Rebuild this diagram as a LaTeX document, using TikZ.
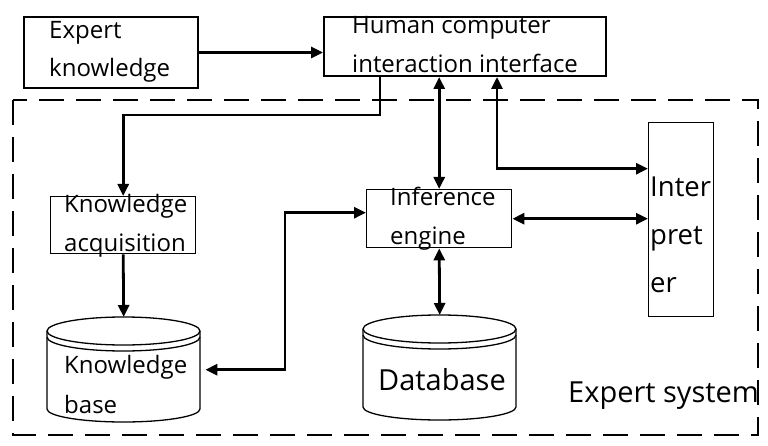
\documentclass[tikz,border=0pt]{standalone}
\usepackage{fontspec}
\setmainfont{Open Sans}
\usetikzlibrary{arrows.meta,calc}
\begin{document}
\begin{tikzpicture}[x=1pt,y=-1pt,
  box/.style={draw, line width=1.4pt, inner sep=0pt, anchor=north west},
  obox/.style={box, line width=2pt},
  area/.style={inner sep=0pt, anchor=north west},
  conn/.style={line width=2.8pt, -{Triangle[length=12pt,width=11pt]}},
  bconn/.style={line width=2.8pt, {Triangle[length=12pt,width=11pt]}-{Triangle[length=12pt,width=11pt]}},
  txt/.style={anchor=base west, inner sep=0pt, font=\fontsize{24}{24}\selectfont},
  bigtxt/.style={anchor=base west, inner sep=0pt, font=\fontsize{29}{29}\selectfont},
  midtxt/.style={anchor=base west, inner sep=0pt, font=\fontsize{27.5}{27.5}\selectfont},
  cyl/.style={line width=1.3pt}]
\useasboundingbox (0,0) rectangle (768,446);

% dashed expert system border
\draw[line width=1.5pt, dash pattern=on 25pt off 12pt] (13,100) rectangle (758,435);

% boxes
\node[obox, minimum width=174pt, minimum height=71pt] (ek) at (23,16) {};
\node[obox, minimum width=282pt, minimum height=59pt] (hci) at (323,16) {};
\node[box, minimum width=145pt, minimum height=57pt] (ka) at (50,196) {};
\node[box, minimum width=145pt, minimum height=58pt] (ie) at (366,189) {};
\node[box, minimum width=65pt, minimum height=194pt] (ip) at (648,122) {};

% cylinders (areas named for connectors)
\node[area, minimum width=153pt, minimum height=105pt] (kb) at (47,317) {};
\node[area, minimum width=153pt, minimum height=105pt] (db) at (363,315) {};

\draw[cyl] (123.5,331) ellipse [x radius=76.5, y radius=14];
\draw[cyl] (47,337) arc[start angle=180, end angle=0, x radius=76.5, y radius=14];
\draw[cyl] (47,331) -- (47,409) arc[start angle=180, end angle=0, x radius=76.5, y radius=13] -- (200,331);

\draw[cyl] (439.5,329) ellipse [x radius=76.5, y radius=14];
\draw[cyl] (363,335) arc[start angle=180, end angle=0, x radius=76.5, y radius=14];
\draw[cyl] (363,329) -- (363,407) arc[start angle=180, end angle=0, x radius=76.5, y radius=13] -- (516,329);

% texts
\node[txt] (t1) at (49,39) {Expert};
\node[txt] (t2) at (49,77) {knowledge};
\node[txt] (t3) at (352,34) {Human computer};
\node[txt] (t4) at (352,73) {interaction interface};
\node[txt] (t5) at (64,213) {Knowledge};
\node[txt] (t6) at (64,252) {acquisition};
\node[txt] (t7) at (64,373) {Knowledge};
\node[txt] (t8) at (64,413) {base};
\node[txt] (t9) at (390,206) {Inference};
\node[txt] (t10) at (390,245) {engine};
\node[midtxt] (t11) at (650,197) {Inter};
\node[midtxt] (t12) at (650,245) {pret};
\node[midtxt] (t13) at (650,292) {er};
\node[bigtxt] (t14) at (378,390) {Database};
\node[bigtxt] (t15) at (568,402) {Expert system};

% connectors
\draw[conn] (ek.east) -- (ek.east -| hci.west);
\draw[conn] ($(hci.south west)+(57,0)$) -- ++(0,38) -| (ka.north);
\draw[conn] (ka.south) -- (kb.north);
\draw[bconn] ([xshift=5pt]kb.east) -| ($(ie.west)+(-81,-6)$) -- ([yshift=6pt]ie.west);
\draw[bconn] (ie.north) -- (ie.north |- hci.south);
\draw[bconn] ($(hci.south west)+(174,0)$) |- ([yshift=51pt]ip.west);
\draw[bconn] (ie.east) -- (ie.east -| ip.west);
\draw[bconn] (ie.south) -- (db.north);
\end{tikzpicture}
\end{document}
